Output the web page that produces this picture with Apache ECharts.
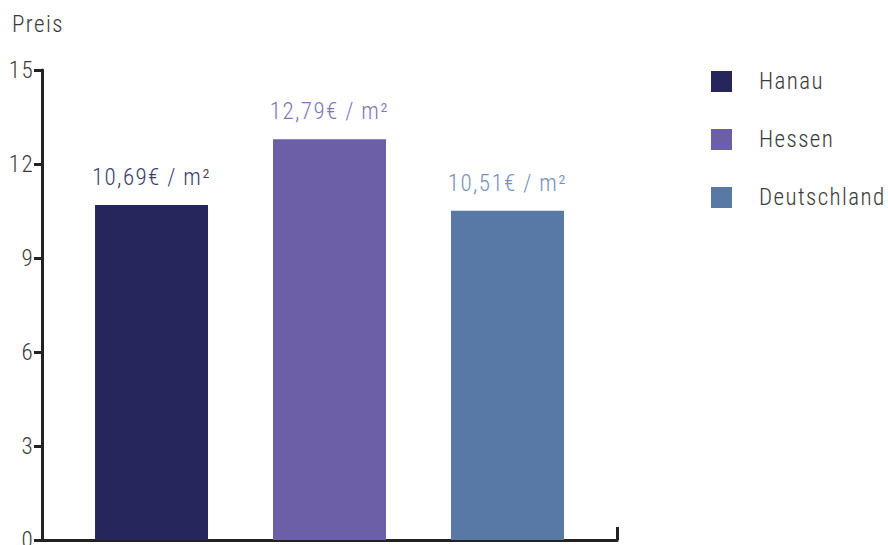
<!DOCTYPE html>
<html>
<head>
<meta charset="utf-8">
<script src="https://cdn.jsdelivr.net/npm/echarts@6/dist/echarts.min.js"></script>
<style>
html,body{margin:0;padding:0;background:#fff;}
#c{width:888px;height:545px;}
#c svg text{letter-spacing:1.4px;font-stretch:semi-condensed;}
</style>
</head>
<body>
<div id="c"></div>
<script>
const seriesNames = ['Hanau', 'Hessen', 'Deutschland'];
const seriesValues = [10.69, 12.79, 10.51];
const valueLabels = ['10,69€ / m²', '12,79€ / m²', '10,51€ / m²'];
const yTicks = [0, 3, 6, 9, 12, 15];
const colors = ['#25275c', '#6c5fa7', '#5878a6'];
const labelColors = ['#3b3d6e', '#8076b6', '#7591ba'];

const chart = echarts.init(document.getElementById('c'), null, {renderer: 'svg'});
const font = 'Roboto';
const fs = 23;
chart.setOption({
  animation: false,
  textStyle: {fontFamily: font},
  grid: {left: 42, right: 271, top: 70, bottom: 5, containLabel: false, outerBoundsMode: 'none'},
  legend: {
    orient: 'vertical',
    left: 711, top: 70,
    padding: 0,
    itemWidth: 21, itemHeight: 21,
    itemGap: 35,
    icon: 'rect',
    textStyle: {fontFamily: font, fontSize: fs, fontWeight: 300, color: '#3a3a3a', padding: [0, 0, 0, 22]},
    data: seriesNames
  },
  xAxis: {
    type: 'category',
    data: [''],
    axisLine: {lineStyle: {color: '#222', width: 3}},
    axisTick: {show: true, inside: true, length: 13, lineStyle: {color: '#222', width: 3}},
    axisLabel: {show: false}
  },
  yAxis: {
    type: 'value',
    min: yTicks[0], max: yTicks[yTicks.length - 1], interval: 3,
    name: 'Preis',
    nameLocation: 'end',
    nameGap: 34,
    nameTextStyle: {fontFamily: font, fontSize: fs, fontWeight: 300, color: '#3a3a3a', align: 'left', padding: [0, 0, 0, -30]},
    axisLine: {show: true, lineStyle: {color: '#222', width: 3}},
    axisTick: {show: true, length: 8, lineStyle: {color: '#222', width: 3}},
    axisLabel: {fontFamily: font, fontSize: fs, fontWeight: 300, color: '#3a3a3a', margin: 8},
    splitLine: {show: false}
  },
  series: seriesNames.map((n, i) => ({
    name: n,
    type: 'bar',
    barWidth: 113,
    barGap: '57.5%',
    data: [seriesValues[i]],
    itemStyle: {color: colors[i]},
    label: {
      show: true, position: 'top', distance: 16,
      formatter: valueLabels[i],
      fontFamily: font, fontSize: fs, fontWeight: 300, color: labelColors[i]
    }
  }))
});
</script>
</body>
</html>
